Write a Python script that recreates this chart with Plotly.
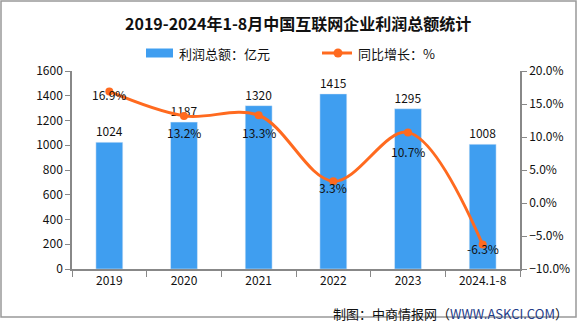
import plotly.graph_objects as go

years = ["2019", "2020", "2021", "2022", "2023", "2024.1-8"]
profit = [1024, 1187, 1320, 1415, 1295, 1008]
growth = [16.9, 13.2, 13.3, 3.3, 10.7, -6.3]
growth_labels = ["16.9%", "13.2%", "13.3%", "3.3%", "10.7%", "-6.3%"]
label_shift = [-3, -17, -17, -6, -19, -4]

FONT = "Noto Sans CJK SC"
BAR_C = "#3F9EF0"
LINE_C = "#FF6A1F"
W, H = 585, 327
L, R, T, B = 72, 65, 71, 58
pw, ph = W - L - R, H - T - B

def px(x):
    return (x - L) / pw

def py(y):
    return (H - B - y) / ph

fig = go.Figure()
fig.add_trace(go.Bar(
    x=years, y=profit, name="利润总额：亿元",
    marker=dict(color=BAR_C), width=0.36,
    text=[str(v) for v in profit], textposition="outside",
    textfont=dict(size=12, color="#111", family=FONT),
    cliponaxis=False,
))
fig.add_trace(go.Scatter(
    x=years, y=growth, name="同比增长：%", yaxis="y2",
    mode="lines+markers",
    line=dict(color=LINE_C, width=3, shape="spline", smoothing=1.0),
    marker=dict(size=8, color=LINE_C),
    cliponaxis=False,
))

annotations = []
for i, (g, t, s) in enumerate(zip(growth, growth_labels, label_shift)):
    annotations.append(dict(
        x=i, y=g, xref="x", yref="y2", text=t, showarrow=False, yshift=s,
        font=dict(size=12, color="#111", family=FONT),
    ))
annotations.append(dict(
    xref="paper", yref="paper", x=px(570), y=py(313), xanchor="right", yanchor="middle",
    text="制图：中商情报网（<span style='color:#1F3C88'>WWW.ASKCI.COM</span>）",
    showarrow=False, font=dict(size=13, color="#111", family=FONT),
))
annotations.append(dict(
    xref="paper", yref="paper", x=px(298), y=py(23), xanchor="center", yanchor="middle",
    text="<b>2019-2024年1-8月中国互联网企业利润总额统计</b>",
    showarrow=False, font=dict(size=16, color="#111", family=FONT),
))
annotations.append(dict(
    xref="paper", yref="paper", x=px(177), y=py(53), xanchor="left", yanchor="middle",
    text="利润总额：亿元", showarrow=False, font=dict(size=13, color="#111", family=FONT),
))
annotations.append(dict(
    xref="paper", yref="paper", x=px(356), y=py(53), xanchor="left", yanchor="middle",
    text="同比增长：%", showarrow=False, font=dict(size=13, color="#111", family=FONT),
))

shapes = [
    dict(type="rect", xref="paper", yref="paper",
         x0=px(1), x1=px(576), y0=py(317), y1=py(1),
         line=dict(color="#999", width=1.5)),
    dict(type="rect", xref="paper", yref="paper",
         x0=px(146), x1=px(173), y0=py(57.5), y1=py(48.5),
         fillcolor=BAR_C, line=dict(width=0)),
    dict(type="line", xref="paper", yref="paper",
         x0=px(322), x1=px(352), y0=py(53), y1=py(53),
         line=dict(color=LINE_C, width=3)),
    dict(type="circle", xref="paper", yref="paper",
         x0=px(333.5), x1=px(342.5), y0=py(57.5), y1=py(48.5),
         fillcolor=LINE_C, line=dict(width=0)),
]

fig.update_layout(
    width=W, height=H,
    margin=dict(l=L, r=R, t=T, b=B),
    paper_bgcolor="white", plot_bgcolor="white",
    showlegend=False,
    xaxis=dict(
        type="category", categoryorder="array", categoryarray=years,
        range=[-0.5, len(years) - 0.5], autorange=False,
        showline=True, linecolor="#888", linewidth=1.5,
        ticks="outside", tickson="boundaries", ticklen=6, tickcolor="#888",
        tickfont=dict(size=12, family=FONT, color="#111"),
        showgrid=False, tickangle=0,
    ),
    yaxis=dict(
        range=[0, 1600], dtick=200, showline=True, linecolor="#888", linewidth=1.5,
        ticks="outside", ticklen=5, tickcolor="#888", showgrid=False, zeroline=False,
        tickfont=dict(size=12, family=FONT, color="#111"),
    ),
    yaxis2=dict(
        range=[-10, 20], dtick=5, overlaying="y", side="right",
        showline=True, linecolor="#888", linewidth=1.5,
        ticks="outside", ticklen=5, tickcolor="#888", showgrid=False, zeroline=False,
        ticksuffix="%", tickformat=".1f",
        tickfont=dict(size=12, family=FONT, color="#111"),
    ),
    annotations=annotations,
    shapes=shapes,
)

fig.write_html("out.html")
